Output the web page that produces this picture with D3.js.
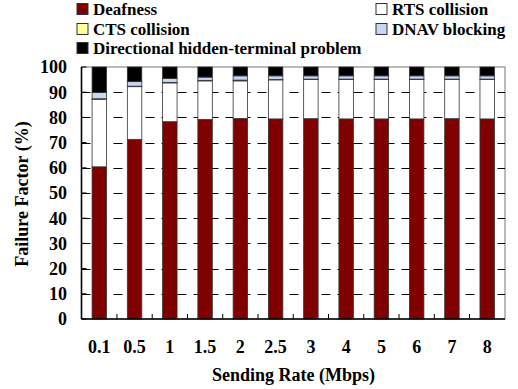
<!DOCTYPE html>
<html><head><meta charset="utf-8">
<script src="https://cdn.jsdelivr.net/npm/d3@7"></script>
<style>
body{margin:0;background:#fff;}
text{font-family:"Liberation Serif","Times New Roman",serif;font-weight:bold;}
</style></head>
<body><svg id="c" width="518" height="389"></svg>
<script>
const categories = ["0.1","0.5","1","1.5","2","2.5","3","4","5","6","7","8"];
const seriesNames = ["Deafness","RTS collision","CTS collision","DNAV blocking","Directional hidden-terminal problem"];
const deafness = [60.4,71.3,78.3,79.2,79.6,79.4,79.5,79.4,79.4,79.4,79.5,79.4];
const rtsCollision = [26.8,20.9,15.4,15.3,14.9,15.5,15.5,15.6,15.6,15.6,15.5,15.6];
const ctsCollision = [0.2,0.2,0.2,0.2,0.3,0.2,0.2,0.2,0.2,0.2,0.2,0.2];
const dnavBlocking = [2.5,1.8,1.6,1.3,1.7,1.4,1.3,1.3,1.3,1.3,1.3,1.3];
const hiddenTerminal = [10.1,5.8,4.5,4.0,3.5,3.5,3.5,3.5,3.5,3.5,3.5,3.5];
const yTicks = [0,10,20,30,40,50,60,70,80,90,100];
const colors = ["#800000","#ffffff","#ffff99","#c6d6f5","#000000"];

const svg = d3.select("#c");
const m = {l:81.5, r:505, t:67, b:319};
const x = d3.scaleBand().domain(categories).range([m.l, m.r]).paddingInner(0.59).paddingOuter(0.3);
const y = d3.scaleLinear().domain([0,100]).range([m.b, m.t]);

svg.append("rect").attr("x",m.l).attr("y",m.t).attr("width",m.r-m.l).attr("height",m.b-m.t)
  .attr("fill","none").attr("stroke","#777").attr("stroke-width",1);

svg.append("g").selectAll("line").data(yTicks.filter(d=>d>0&&d<100)).join("line")
  .attr("x1",m.l).attr("x2",m.r).attr("y1",d=>Math.round(y(d))+0.5).attr("y2",d=>Math.round(y(d))+0.5)
  .attr("stroke","#000").attr("stroke-width",1).attr("stroke-dasharray","9,7");

const rows = categories.map((c,i)=>({cat:c, s0:deafness[i], s1:rtsCollision[i], s2:ctsCollision[i], s3:dnavBlocking[i], s4:hiddenTerminal[i]}));
const stack = d3.stack().keys(["s0","s1","s2","s3","s4"])(rows);
svg.append("g").selectAll("g").data(stack).join("g").attr("fill",(d,i)=>colors[i])
  .selectAll("rect").data(d=>d).join("rect")
  .attr("x",d=>x(d.data.cat)).attr("width",x.bandwidth())
  .attr("y",d=>y(d[1])).attr("height",d=>y(d[0])-y(d[1]))
  .attr("stroke","#333").attr("stroke-width",0.8);

const step = x.step();
const bounds = categories.slice(1).map((c)=>x(c) - (step - x.bandwidth())/2);
svg.append("g").selectAll("line").data(bounds).join("line")
  .attr("x1",d=>d).attr("x2",d=>d).attr("y1",m.b).attr("y2",m.b-5)
  .attr("stroke","#000").attr("stroke-width",1);

svg.append("line").attr("x1",m.l).attr("x2",m.r).attr("y1",m.b).attr("y2",m.b).attr("stroke","#000").attr("stroke-width",1.6);
svg.append("line").attr("x1",m.l).attr("x2",m.l).attr("y1",m.t).attr("y2",m.b).attr("stroke","#000").attr("stroke-width",1.6);
svg.append("g").selectAll("line").data(yTicks).join("line")
  .attr("x1",m.l).attr("x2",m.l+5).attr("y1",d=>y(d)).attr("y2",d=>y(d)).attr("stroke","#000");

svg.append("g").selectAll("text").data(yTicks).join("text")
  .attr("x",67).attr("y",d=>y(d)).attr("dy","0.35em").attr("text-anchor","end")
  .attr("font-size",18).text(d=>d);
svg.append("g").selectAll("text").data(categories).join("text")
  .attr("x",d=>x(d)+x.bandwidth()/2).attr("y",353).attr("text-anchor","middle")
  .attr("font-size",18).text(d=>d);

svg.append("text").attr("x",293.5).attr("y",381).attr("text-anchor","middle").attr("font-size",18).text("Sending Rate (Mbps)");
svg.append("text").attr("transform","translate(28,194) rotate(-90)").attr("text-anchor","middle").attr("font-size",18).text("Failure Factor (%)");

const legPos = [[77,9],[376,9],[77,29],[376,29],[77,48]];
const lg = svg.append("g").selectAll("g").data(seriesNames).join("g")
  .attr("transform",(d,i)=>`translate(${legPos[i][0]},${legPos[i][1]})`);
lg.append("rect").attr("x",0).attr("y",-5.5).attr("width",11).attr("height",11)
  .attr("fill",(d,i)=>colors[i]).attr("stroke","#333").attr("stroke-width",1);
lg.append("text").attr("x",16).attr("y",0).attr("dy","0.35em").attr("font-size",17).text(d=>d);
</script></body></html>
